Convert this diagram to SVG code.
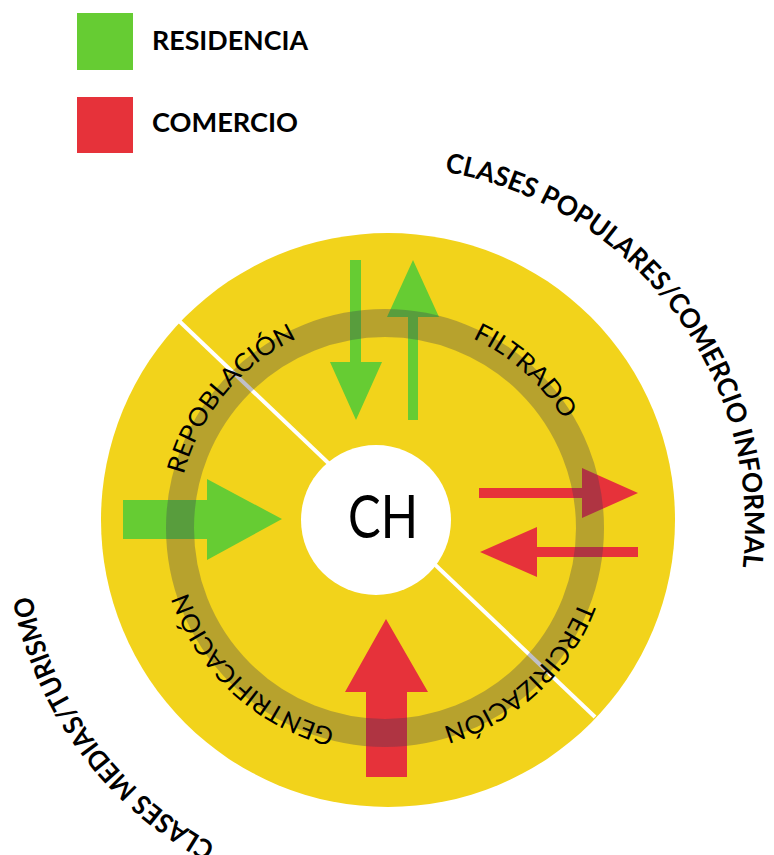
<svg xmlns="http://www.w3.org/2000/svg" width="774" height="855" viewBox="0 0 774 855">
<style>
.res{fill:#66CC33}
.com{fill:#E6323A}
.legend{font-family:Lato,"Liberation Sans",sans-serif;font-weight:bold;font-size:26px;fill:#000}
.ringlbl{font-family:Lato,"Liberation Sans",sans-serif;font-size:25px;fill:#000}
.outer{font-family:Lato,"Liberation Sans",sans-serif;font-weight:bold;font-size:27px;fill:#000}
</style>
<defs>
<path id="ringPath" d="M 593,527 A 208 208 0 1 1 177,527 A 208 208 0 1 1 593,527"/>
<path id="outerPath" d="M 25,527 A 360 360 0 1 1 745,527 A 360 360 0 1 1 25,527"/>
</defs>
<rect width="774" height="855" fill="#fff"/>
<g id="legend">
<rect class="res" x="77" y="13" width="56" height="57"/>
<text class="legend" x="152" y="50" textLength="156" lengthAdjust="spacingAndGlyphs">RESIDENCIA</text>
<rect class="com" x="77" y="97" width="56" height="56"/>
<text class="legend" x="152" y="132" textLength="146" lengthAdjust="spacingAndGlyphs">COMERCIO</text>
</g>
<g id="disc">
<circle cx="388" cy="520" r="287" fill="#F2D31B"/>
<line x1="176" y1="318" x2="595" y2="717" stroke="#fff" stroke-width="4"/>
</g>
<g id="connectors">
<path class="res" d="M350,260 H361 V362 H382 L356,420 L330,362 H350 Z"/>
<path class="res" d="M413,260 L439,317 H418 V420 H408 V317 H387 Z"/>
<path class="com" d="M479,488 H582 V468 L638,493 L582,518 V498 H479 Z"/>
<path class="com" d="M480,552 L537,527 V547 H638 V557 H537 V577 Z"/>
<path class="res" d="M123,500 H207 V479 L282,519 L207,560 V539 H123 Z"/>
<path class="com" d="M386,619 L428,692 H407 V777 H366 V692 H345 Z"/>
</g>
<g id="ring">
<circle cx="385" cy="528" r="205" fill="none" stroke="#3C3C55" stroke-opacity="0.32" stroke-width="28"/>
</g>
<g id="ch">
<circle cx="376" cy="520" r="75" fill="#fff"/>
<text x="383" y="538" text-anchor="middle" font-family="Lato, 'Liberation Sans', sans-serif" font-size="60" textLength="70" lengthAdjust="spacingAndGlyphs">CH</text>
</g>
<g id="ring-labels" class="ringlbl">
<text><textPath href="#ringPath" startOffset="76" textLength="192" lengthAdjust="spacingAndGlyphs">TERCIRIZACIÓN</textPath></text>
<text><textPath href="#ringPath" startOffset="377" textLength="210" lengthAdjust="spacingAndGlyphs">GENTRIFICACIÓN</textPath></text>
<text><textPath href="#ringPath" startOffset="706" textLength="183" lengthAdjust="spacingAndGlyphs">REPOBLACIÓN</textPath></text>
<text><textPath href="#ringPath" startOffset="1070" textLength="124" lengthAdjust="spacingAndGlyphs">FILTRADO</textPath></text>
</g>
<g id="outer-labels" class="outer">
<text><textPath href="#outerPath" startOffset="625" textLength="546" lengthAdjust="spacingAndGlyphs">CLASES POPULARES/COMERCIO INFORMAL</textPath></text>
<text><textPath href="#outerPath" startOffset="1872" textLength="320" lengthAdjust="spacingAndGlyphs">CLASES MEDIAS/TURISMO</textPath></text>
</g>
</svg>
